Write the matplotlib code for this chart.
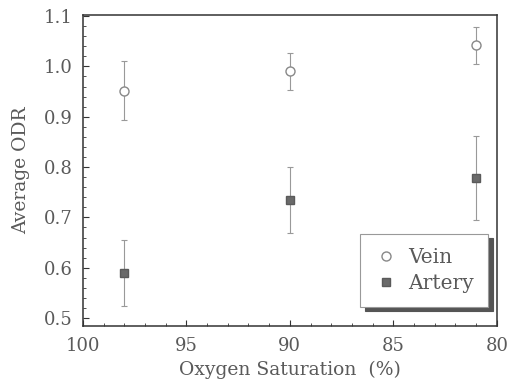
import matplotlib.pyplot as plt
from matplotlib.ticker import MultipleLocator

plt.rcParams['font.family'] = ['DejaVu Serif']

# 酸素飽和度 (%)
saturation = [98, 90, 81]
vein_mean = [0.952, 0.99, 1.042]
vein_err = [0.058, 0.037, 0.037]
artery_mean = [0.59, 0.735, 0.778]
artery_err = [0.065, 0.066, 0.083]

fig = plt.figure(figsize=(5.08, 3.86), dpi=100)
ax = fig.add_axes([0.163, 0.155, 0.815, 0.806])

ax.errorbar(saturation, vein_mean, yerr=vein_err, fmt='none', ecolor='#999999',
            elinewidth=0.8, capsize=2.5, capthick=0.8)
ax.errorbar(saturation, artery_mean, yerr=artery_err, fmt='none', ecolor='#999999',
            elinewidth=0.8, capsize=2.5, capthick=0.8)
ax.plot(saturation, vein_mean, 'o', ms=6.5, mfc='white', mec='#888888', mew=1.0,
        ls='none', label='Vein')
ax.plot(saturation, artery_mean, 's', ms=6, mfc='#6a6a6a', mec='#5a5a5a',
        ls='none', label='Artery')

ax.set_xlim(100, 80)
ax.set_ylim(0.484, 1.102)
ax.xaxis.set_major_locator(MultipleLocator(5))
ax.xaxis.set_minor_locator(MultipleLocator(1))
ax.yaxis.set_major_locator(MultipleLocator(0.1))
ax.yaxis.set_minor_locator(MultipleLocator(0.02))
ax.yaxis.set_major_formatter(lambda v, p: f"{v:.1f}")
ax.tick_params(which='both', direction='in', labelsize=13, colors='#333333',
               labelcolor='#5a5a5a')
ax.tick_params(axis='x', pad=8)
ax.tick_params(axis='y', pad=7)
ax.tick_params(which='major', length=4)
ax.tick_params(which='minor', length=2)
for s in ax.spines.values():
    s.set_linewidth(1.1)
    s.set_color('#333333')

ax.set_xlabel("Oxygen Saturation  (%)", fontsize=13.5, color='#5a5a5a', labelpad=4)
ax.set_ylabel("Average ODR", fontsize=13.5, color='#5a5a5a', labelpad=10)

leg = ax.legend(loc='lower right', fontsize=14.5, frameon=True,
                shadow={'color': '#555555', 'alpha': 1.0, 'ox': 4, 'oy': -3},
                fancybox=False, handlelength=1.2, handletextpad=0.5,
                borderpad=0.7, labelspacing=0.35, borderaxespad=0,
                bbox_to_anchor=(0.978, 0.061), framealpha=1)
leg.get_frame().set_edgecolor('#999999')
leg.get_frame().set_linewidth(0.8)
for t in leg.get_texts():
    t.set_color('#5a5a5a')

plt.savefig("out.png", dpi=100)
